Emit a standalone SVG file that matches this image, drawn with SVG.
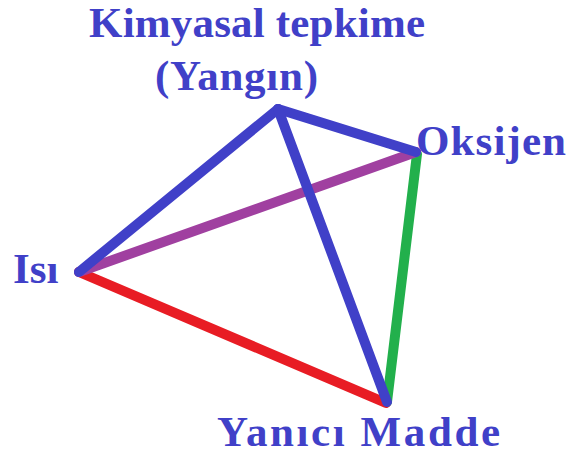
<svg xmlns="http://www.w3.org/2000/svg" width="569" height="455" viewBox="0 0 569 455">
<style>
.lbl{font-family:"Liberation Serif","Times New Roman",serif;font-weight:bold;font-size:43px;fill:#4040C8}
.e{stroke-width:10;stroke-linecap:round;fill:none}
</style>
<rect width="569" height="455" fill="#fff"/>
<g id="connectors">
<line class="e" x1="417" y1="154" x2="387" y2="402" stroke="#22B04C"/>
<line class="e" x1="79" y1="272" x2="386" y2="403" stroke="#E81C24"/>
<line class="e" x1="79" y1="272" x2="416" y2="152" stroke="#A040A0"/>
<line class="e" x1="79" y1="272" x2="278" y2="109" stroke="#4040C8"/>
<line class="e" x1="278" y1="109" x2="416" y2="152" stroke="#4040C8"/>
<line class="e" x1="278" y1="109" x2="387" y2="402" stroke="#4040C8"/>
</g>
<g id="kimyasal"><text class="lbl" x="89" y="37" textLength="336" lengthAdjust="spacing">Kimyasal tepkime</text><text class="lbl" x="155" y="90" textLength="163" lengthAdjust="spacing">(Yangın)</text></g>
<g id="oksijen"><text class="lbl" x="416" y="155" textLength="150" lengthAdjust="spacing">Oksijen</text></g>
<g id="isi"><text class="lbl" x="13" y="283">Isı</text></g>
<g id="yanici"><text class="lbl" x="217" y="446" textLength="283" lengthAdjust="spacing">Yanıcı Madde</text></g>
</svg>
